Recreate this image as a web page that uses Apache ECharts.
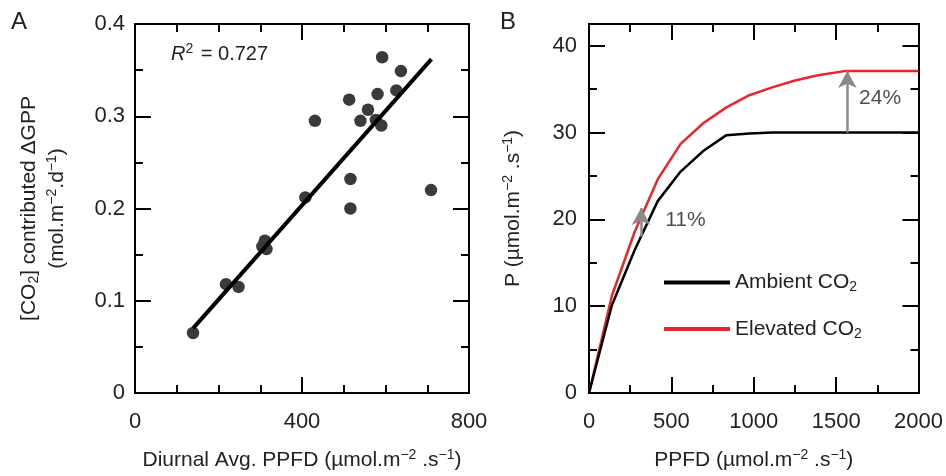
<!DOCTYPE html>
<html>
<head>
<meta charset="utf-8">
<title>CO2 fertilisation and PPFD</title>
<script src="https://cdn.jsdelivr.net/npm/echarts@6/dist/echarts.min.js"></script>
<style>
  html, body { margin: 0; padding: 0; background: #fff; }
  #chart { width: 946px; height: 476px; }
</style>
</head>
<body>
<div id="chart"></div>
<script>
// panel A: daily CO2-contributed dGPP vs diurnal average PPFD
var ppfdA = [139, 218, 248, 305, 311, 315, 408, 431, 513, 516, 516, 540, 558, 577, 581, 590, 592, 626, 637, 709];
var dGpp = [0.065, 0.118, 0.115, 0.159, 0.165, 0.156, 0.212, 0.295, 0.318, 0.232, 0.200, 0.295, 0.307, 0.296, 0.324, 0.290, 0.364, 0.328, 0.349, 0.220];
var fitX = [139, 710];
var fitY = [0.070, 0.362];

// panel B: light response curves
var ppfdB = [0, 139, 278, 417, 556, 695, 834, 973, 1112, 1251, 1390, 1560, 2000];
var ambient = [0, 10.1, 16.5, 22.1, 25.5, 27.9, 29.7, 29.9, 30, 30, 30, 30, 30];
var elevated = [0, 11.2, 18.6, 24.6, 28.7, 31.1, 32.9, 34.3, 35.2, 36.0, 36.6, 37.1, 37.1];
// arrows: x, from, to
var arrowLow = [316, 18.0, 21.3];
var arrowHigh = [1568, 30.0, 37.1];
var pctText = ['11%', '24%'];
var pctX = [585, 1767];
var pctY = [19.9, 34.0];

var FONT = 'Liberation Sans';
var TXT = '#222';

function pairs(xs, ys) {
    var out = [];
    for (var i = 0; i < xs.length; i++) out.push([xs[i], ys[i]]);
    return out;
}

var supRich = {
    n: { fontSize: 21, fontFamily: FONT, color: TXT },
    sup: { fontSize: 14, fontFamily: FONT, color: TXT, padding: [0, 0, 10, 0] },
    sub: { fontSize: 14, fontFamily: FONT, color: TXT, padding: [10, 0, 0, 0] }
};

// frame axis helper (ticks inside, both sides)
function frameAxis(extra) {
    var a = {
        type: 'value',
        axisLine: { show: true, onZero: false, lineStyle: { color: '#000', width: 2 } },
        axisTick: { show: true, inside: true, length: 16, lineStyle: { color: '#000', width: 2 } },
        axisLabel: { show: false },
        splitLine: { show: false }
    };
    for (var k in extra) a[k] = extra[k];
    return a;
}
var lbl = { show: true, fontSize: 22, fontFamily: FONT, color: TXT };
var minor = function (n) {
    return { show: true, splitNumber: n, length: 8, lineStyle: { color: '#000', width: 2 } };
};

var myChart = echarts.init(document.getElementById('chart'));
var option = {
    animation: false,
    grid: [
        { left: 135, top: 24, width: 334, height: 369 },
        { left: 589, top: 24, width: 335, height: 369 }
    ],
    xAxis: [
        frameAxis({ gridIndex: 0, position: 'bottom', min: 0, max: 800, interval: 400,
            minorTick: minor(4),
            axisLabel: Object.assign({ margin: 18 }, lbl),
            name: '{n|Diurnal Avg. PPFD (µmol.m}{sup|−2}{n| .s}{sup|−1}{n|)}',
            nameLocation: 'middle', nameGap: 55,
            nameTextStyle: { rich: supRich } }),
        frameAxis({ gridIndex: 0, position: 'top', min: 0, max: 800, interval: 400,
            minorTick: minor(4) }),
        frameAxis({ gridIndex: 1, position: 'bottom', min: 0, max: 2000, interval: 500,
            minorTick: minor(2),
            axisLabel: Object.assign({ margin: 18, formatter: function (v) { return String(v); } }, lbl),
            name: '{n|PPFD (µmol.m}{sup|−2}{n| .s}{sup|−1}{n|)}',
            nameLocation: 'middle', nameGap: 55,
            nameTextStyle: { rich: supRich } }),
        frameAxis({ gridIndex: 1, position: 'top', min: 0, max: 2000, interval: 500,
            minorTick: minor(2) })
    ],
    yAxis: [
        frameAxis({ gridIndex: 0, position: 'left', min: 0, max: 0.4, interval: 0.1,
            minorTick: minor(2),
            axisLabel: Object.assign({ margin: 10 }, lbl),
            name: '{n|[CO}{sub|2}{n|] contributed ΔGPP}\n{n|(mol.m}{sup|−2}{n|.d}{sup|−1}{n|)}',
            nameLocation: 'middle', nameGap: 64,
            nameTextStyle: { rich: supRich, lineHeight: 28 } }),
        frameAxis({ gridIndex: 0, position: 'right', min: 0, max: 0.4, interval: 0.1,
            minorTick: minor(2) }),
        frameAxis({ gridIndex: 1, position: 'left', min: 0, max: 42.5, interval: 10,
            axisLabel: Object.assign({ margin: 12, showMaxLabel: false }, lbl),
            name: '{n|P (µmol.m}{sup|−2}{n| .s}{sup|−1}{n|)}',
            nameLocation: 'middle', nameGap: 64,
            nameTextStyle: { rich: supRich } }),
        frameAxis({ gridIndex: 1, position: 'left', min: 0, max: 42.5, interval: 5,
            axisTick: { show: true, inside: true, length: 8, lineStyle: { color: '#000', width: 2 } } }),
        frameAxis({ gridIndex: 1, position: 'right', min: 0, max: 42.5, interval: 10 }),
        frameAxis({ gridIndex: 1, position: 'right', min: 0, max: 42.5, interval: 5,
            axisTick: { show: true, inside: true, length: 8, lineStyle: { color: '#000', width: 2 } } })
    ],
    legend: {
        orient: 'vertical',
        left: 659, top: 267,
        itemWidth: 66, itemHeight: 4, icon: 'rect',
        itemGap: 24,
        selectedMode: false,
        data: ['Ambient CO2', 'Elevated CO2'],
        formatter: function (name) {
            return '{n|' + name.slice(0, -1) + '}{s|2}';
        },
        textStyle: {
            rich: {
                n: { fontSize: 21, fontFamily: FONT, color: TXT },
                s: { fontSize: 14, fontFamily: FONT, color: TXT, padding: [10, 0, 0, 0] }
            }
        }
    },
    graphic: [
        { type: 'text', left: 11, top: 10, style: { text: 'A', font: '24px "Liberation Sans"', fill: TXT } },
        { type: 'text', left: 500, top: 10, style: { text: 'B', font: '24px "Liberation Sans"', fill: TXT } },
        { type: 'text', left: 171, top: 42, style: {
            text: '{i|R}{sup|2}{n| = 0.727}',
            rich: {
                i: { fontSize: 20, fontStyle: 'italic', fontFamily: FONT, fill: TXT },
                sup: { fontSize: 14, fontFamily: FONT, fill: TXT, padding: [0, 2, 10, 0] },
                n: { fontSize: 20, fontFamily: FONT, fill: TXT }
            } } }
    ],
    series: [
        {
            type: 'scatter', xAxisIndex: 0, yAxisIndex: 0,
            data: pairs(ppfdA, dGpp),
            symbolSize: 12.5,
            itemStyle: { color: '#3a3a3a', opacity: 1 },
            z: 2
        },
        {
            type: 'line', xAxisIndex: 0, yAxisIndex: 0,
            data: pairs(fitX, fitY),
            symbol: 'none',
            lineStyle: { color: '#000', width: 4 },
            z: 3
        },
        {
            name: 'Ambient CO2', type: 'line', xAxisIndex: 2, yAxisIndex: 2,
            data: pairs(ppfdB, ambient),
            symbol: 'none',
            color: '#000',
            lineStyle: { color: '#000', width: 2.5 },
            z: 3,
            markLine: {
                silent: true,
                symbol: ['none', 'arrow'],
                symbolSize: [14, 17],
                label: { show: false },
                lineStyle: { color: '#8a8a8a', width: 2.5, type: 'solid' },
                data: [
                    [{ coord: [arrowLow[0], arrowLow[1]] }, { coord: [arrowLow[0], arrowLow[2]] }],
                    [{ coord: [arrowHigh[0], arrowHigh[1]] }, { coord: [arrowHigh[0], arrowHigh[2]] }]
                ]
            }
        },
        {
            name: 'Elevated CO2', type: 'line', xAxisIndex: 2, yAxisIndex: 2,
            data: pairs(ppfdB, elevated),
            symbol: 'none',
            color: '#e8262b',
            lineStyle: { color: '#e8262b', width: 2.5 },
            z: 2
        },
        {
            type: 'scatter', xAxisIndex: 2, yAxisIndex: 2,
            data: pctX.map(function (x, i) { return [x, pctY[i], pctText[i]]; }),
            symbolSize: 0,
            silent: true,
            label: {
                show: true, position: 'inside',
                formatter: function (p) { return p.data[2]; },
                fontSize: 21, fontFamily: FONT, color: TXT
            }
        }
    ]
};
myChart.setOption(option);
</script>
</body>
</html>
